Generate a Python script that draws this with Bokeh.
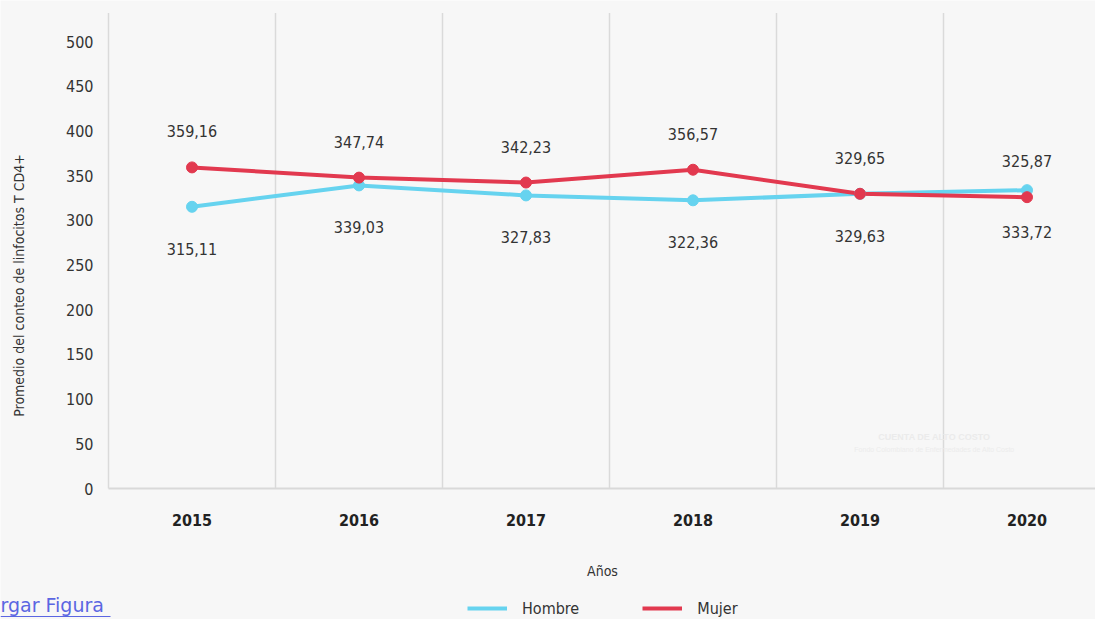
import math
from bokeh.plotting import figure
from bokeh.models import (ColumnDataSource, Range1d, LabelSet, Legend, LegendItem)
from bokeh.core.properties import value
from bokeh.embed import file_html
from bokeh.resources import INLINE

years = ["2015", "2016", "2017", "2018", "2019", "2020"]
hombre = [315.11, 339.03, 327.83, 322.36, 329.63, 333.72]
mujer = [359.16, 347.74, 342.23, 356.57, 329.65, 325.87]
y_ticks = [0, 50, 100, 150, 200, 250, 300, 350, 400, 450, 500]
y_title = "Promedio del conteo de linfocitos T CD4+"
x_title = "Años"
link_text = "rgar Figura "

FONT = "'DejaVu Sans Condensed', 'Open Sans', sans-serif"
BG = "#f7f7f7"
C_H = "#66d3ef"
C_M = "#e2394f"
GRID = "#dadada"
LINK = "#5b66e2"

W, H = 1095, 619
# frame covers the whole canvas; ranges chosen so the plot box sits at px 108..1095 x 12..488
x_range = Range1d(-108 / 167, (W - 108) / 167)
y_range = Range1d(-(H - 488) / 0.894, 488 / 0.894)

xpos = [i + 0.5 for i in range(len(years))]
fmt = lambda v: f"{v:.2f}".replace(".", ",")
src_h = ColumnDataSource(dict(x=xpos, y=hombre, t=[fmt(v) for v in hombre]))
src_m = ColumnDataSource(dict(x=xpos, y=mujer, t=[fmt(v) for v in mujer]))

p = figure(width=W, height=H, output_backend="svg", toolbar_location=None,
           x_range=x_range, y_range=y_range,
           background_fill_color=BG, border_fill_color=BG, outline_line_color=None,
           min_border=0)
p.xaxis.visible = False
p.yaxis.visible = False
p.xgrid.visible = False
p.ygrid.visible = False

ymax = 532
# vertical grid lines (band boundaries)
bounds = list(range(len(years)))
p.segment(x0=bounds, x1=bounds, y0=[0] * len(bounds), y1=[ymax] * len(bounds),
          line_color=GRID, line_width=1.5)
# x axis line
p.segment(x0=[0], x1=[x_range.end], y0=[0], y1=[0], line_color="#d9d9d9", line_width=2)

# y tick labels
p.text(x=[-15 / 167] * len(y_ticks), y=y_ticks, text=[str(t) for t in y_ticks],
       text_align="right", text_baseline="middle", text_font=value(FONT),
       text_font_size="16px", text_color="#333333")
# y axis title
p.text(x=[-90 / 167], y=[(488 - 285) / 0.894], text=[y_title], angle=math.pi / 2,
       text_align="center", text_baseline="middle", text_font=value(FONT),
       text_font_size="14px", text_color="#333333")
# x tick labels
p.text(x=xpos, y=[-31 / 0.894] * len(xpos), text=years, text_align="center",
       text_baseline="middle", text_font=value(FONT), text_font_style="bold",
       text_font_size="16px", text_color="#222222")
# x axis title
p.text(x=[(602 - 108) / 167], y=[-82 / 0.894], text=[x_title], text_align="center",
       text_baseline="middle", text_font=value(FONT), text_font_size="14px",
       text_color="#333333")

# watermark
p.text(x=[4.946], y=[58], text=["CUENTA DE ALTO COSTO"], text_align="center",
       text_baseline="middle", text_font=value("Liberation Sans"), text_font_style="bold",
       text_font_size="9px", text_color="#ebebeb")
p.text(x=[4.946], y=[44], text=["Fondo Colombiano de Enfermedades de Alto Costo"],
       text_align="center", text_baseline="middle", text_font=value("Liberation Sans"),
       text_font_size="7px", text_color="#ececec")

# link text
p.text(x=[x_range.start], y=[-(604 - 488) / 0.894], text=[link_text], text_align="left",
       text_baseline="middle", text_font=value("DejaVu Sans"), text_font_size="19px",
       text_color=LINK)
p.segment(x0=[x_range.start], x1=[x_range.start + 110 / 167],
          y0=[-(616 - 488) / 0.894], y1=[-(616 - 488) / 0.894],
          line_color=LINK, line_width=1.2)

# series
lh = p.line("x", "y", source=src_h, line_color=C_H, line_width=4)
lm = p.line("x", "y", source=src_m, line_color=C_M, line_width=4)
p.scatter("x", "y", source=src_h, size=11, fill_color=C_H, line_color=C_H)
p.scatter("x", "y", source=src_m, size=11, fill_color=C_M, line_color=C_M)

lab_m = LabelSet(x="x", y="y", text="t", source=src_m, y_offset=36, text_align="center",
                 text_baseline="middle", text_font=value(FONT), text_font_size="16px",
                 text_color="#333333")
lab_h = LabelSet(x="x", y="y", text="t", source=src_h, y_offset=-42, text_align="center",
                 text_baseline="middle", text_font=value(FONT), text_font_size="16px",
                 text_color="#333333")
p.add_layout(lab_m)
p.add_layout(lab_h)

legend = Legend(items=[LegendItem(label="Hombre", renderers=[lh]),
                       LegendItem(label="Mujer", renderers=[lm])],
                orientation="horizontal", location=(467, 1), padding=0, margin=0,
                background_fill_alpha=0, border_line_alpha=0,
                glyph_width=40, glyph_height=20, label_standoff=15, spacing=63,
                label_text_font=FONT, label_text_font_size="16px",
                label_text_color="#333333")
p.add_layout(legend, "center")

open("out.html", "w").write(file_html(p, INLINE))
